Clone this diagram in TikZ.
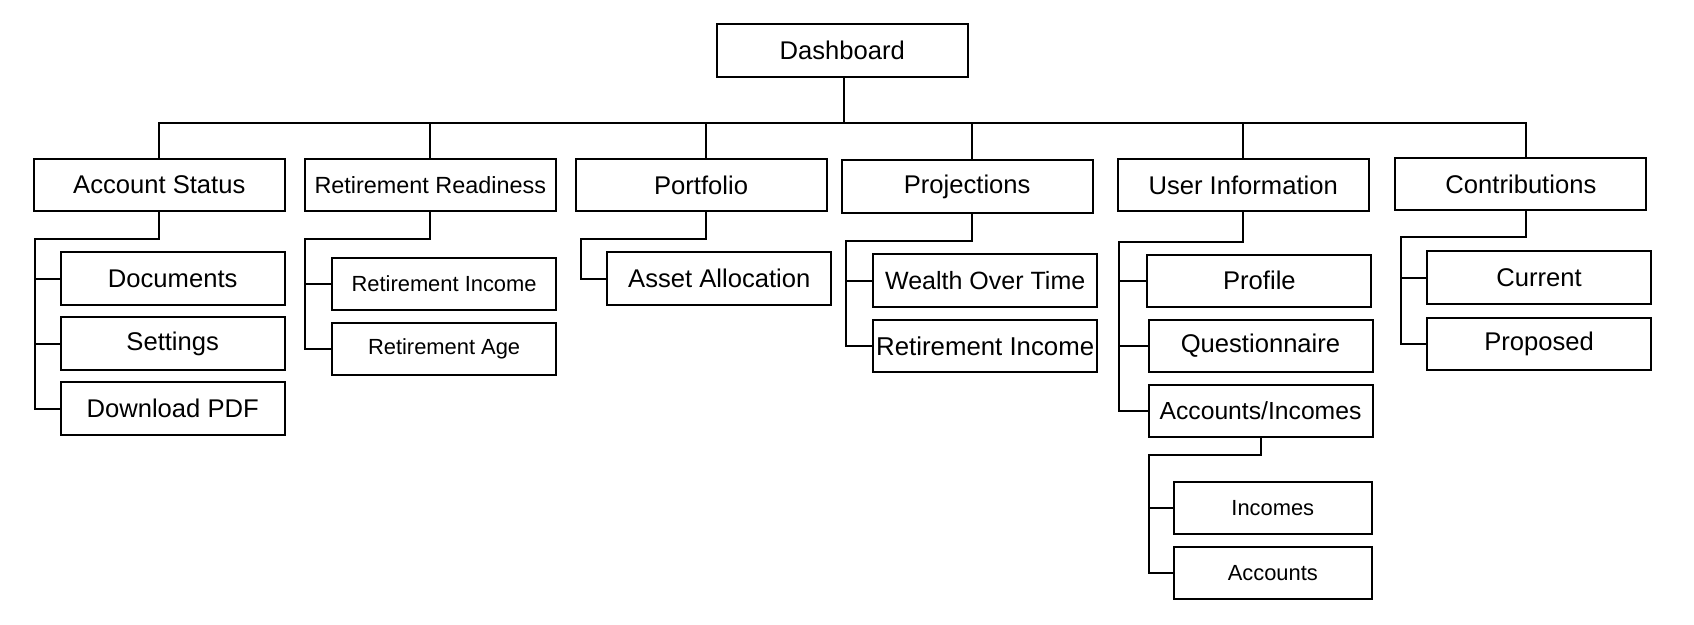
\documentclass[tikz,border=0pt]{standalone}
\usepackage{fontspec}
\setmainfont{Liberation Sans}
\usepackage{tikz}
\usetikzlibrary{positioning}
\tikzstyle{page} = [rectangle, draw=black, line width=1pt, minimum width=125.5pt, minimum height=26.2pt, inner sep=0pt, text centered, font=\fontsize{12.8}{15}\selectfont]
\tikzstyle{subpage} = [page, minimum width=112pt]
\tikzstyle{smalltext} = [font=\fontsize{10.95}{13}\selectfont]
\tikzstyle{link} = [line width=1pt]

\begin{document}
\begin{tikzpicture}[x=0.5pt, y=-0.5pt]
    \useasboundingbox (0,0) rectangle (1694,625);

    % Top levels
    \node[page] (dash) at (842.3,50.7) {Dashboard};
    \node[page] (acct) at (159.3,184.9) {Account Status};
    \node[page, font=\fontsize{11.7}{14}\selectfont] (ready) at (430.3,184.9) {Retirement Readiness};
    \node[page] (port) at (701.1,184.9) {Portfolio};
    \node[page] (proj) at (967.2,186.7) {Projections};
    \node[page] (user) at (1243.2,184.9) {User Information};
    \node[page] (contrib) at (1520.9,183.9) {Contributions};

    % Sub pages
    \node[subpage] (docs) at (172.7,278.7) {Documents};
    \node[subpage] (settings) at (172.7,343.7) {Settings};
    \node[subpage] (pdf) at (172.7,408.7) {Download PDF};
    \node[subpage, smalltext] (rinc) at (444.1,283.8) {Retirement Income};
    \node[subpage, smalltext] (rage) at (444.1,348.8) {Retirement Age};
    \node[subpage] (alloc) at (719.3,278.7) {Asset Allocation};
    \node[subpage, font=\fontsize{12.5}{15}\selectfont] (wealth) at (985.2,280.7) {Wealth Over Time};
    \node[subpage, font=\fontsize{12.9}{15}\selectfont] (pinc) at (985.2,345.8) {Retirement Income};
    \node[subpage] (profile) at (1259.4,280.8) {Profile};
    \node[subpage] (quest) at (1260.5,345.8) {Questionnaire};
    \node[subpage, font=\fontsize{12.35}{15}\selectfont] (accinc) at (1260.5,410.8) {Accounts/Incomes};
    \node[subpage, smalltext, minimum width=99.25pt] (incomes) at (1272.8,507.8) {Incomes};
    \node[subpage, smalltext, minimum width=99.25pt] (accts) at (1272.8,572.8) {Accounts};
    \node[subpage] (current) at (1539.1,277.7) {Current};
    \node[subpage] (proposed) at (1539.1,343.8) {Proposed};

    % Knees
    \coordinate (bus) at (842.3,123);
    \coordinate (acctK) at (34.7,238.7);
    \coordinate (readyK) at (304.6,239.3);
    \coordinate (portK) at (581,238.7);
    \coordinate (projK) at (846,240.7);
    \coordinate (userK) at (1118.8,241.7);
    \coordinate (accincK) at (1149,455);
    \coordinate (contribK) at (1401.2,237.3);

    % Lines
    \draw[link] ([xshift=0.9pt]dash.south) -- ([xshift=0.9pt]bus);
    \foreach \n in {acct,ready,user}
        \draw[link] (bus) -| (\n.north);
    \foreach \n in {port,proj,contrib}
        \draw[link] (bus) -| ([xshift=2.3pt]\n.north);
    \foreach \n in {docs,settings,pdf}
        \draw[link] (acct.south) |- (acctK) |- (\n.west);
    \foreach \n in {rinc,rage}
        \draw[link] (ready.south) |- (readyK) |- (\n.west);
    \draw[link] ([xshift=2.3pt]port.south) |- (portK) |- (alloc.west);
    \foreach \n in {wealth,pinc}
        \draw[link] ([xshift=2.3pt]proj.south) |- (projK) |- (\n.west);
    \foreach \n in {profile,quest,accinc}
        \draw[link] (user.south) |- (userK) |- (\n.west);
    \foreach \n in {incomes,accts}
        \draw[link] (accinc.south) |- (accincK) |- (\n.west);
    \foreach \n in {current,proposed}
        \draw[link] ([xshift=2.3pt]contrib.south) |- (contribK) |- (\n.west);
\end{tikzpicture}
\end{document}
